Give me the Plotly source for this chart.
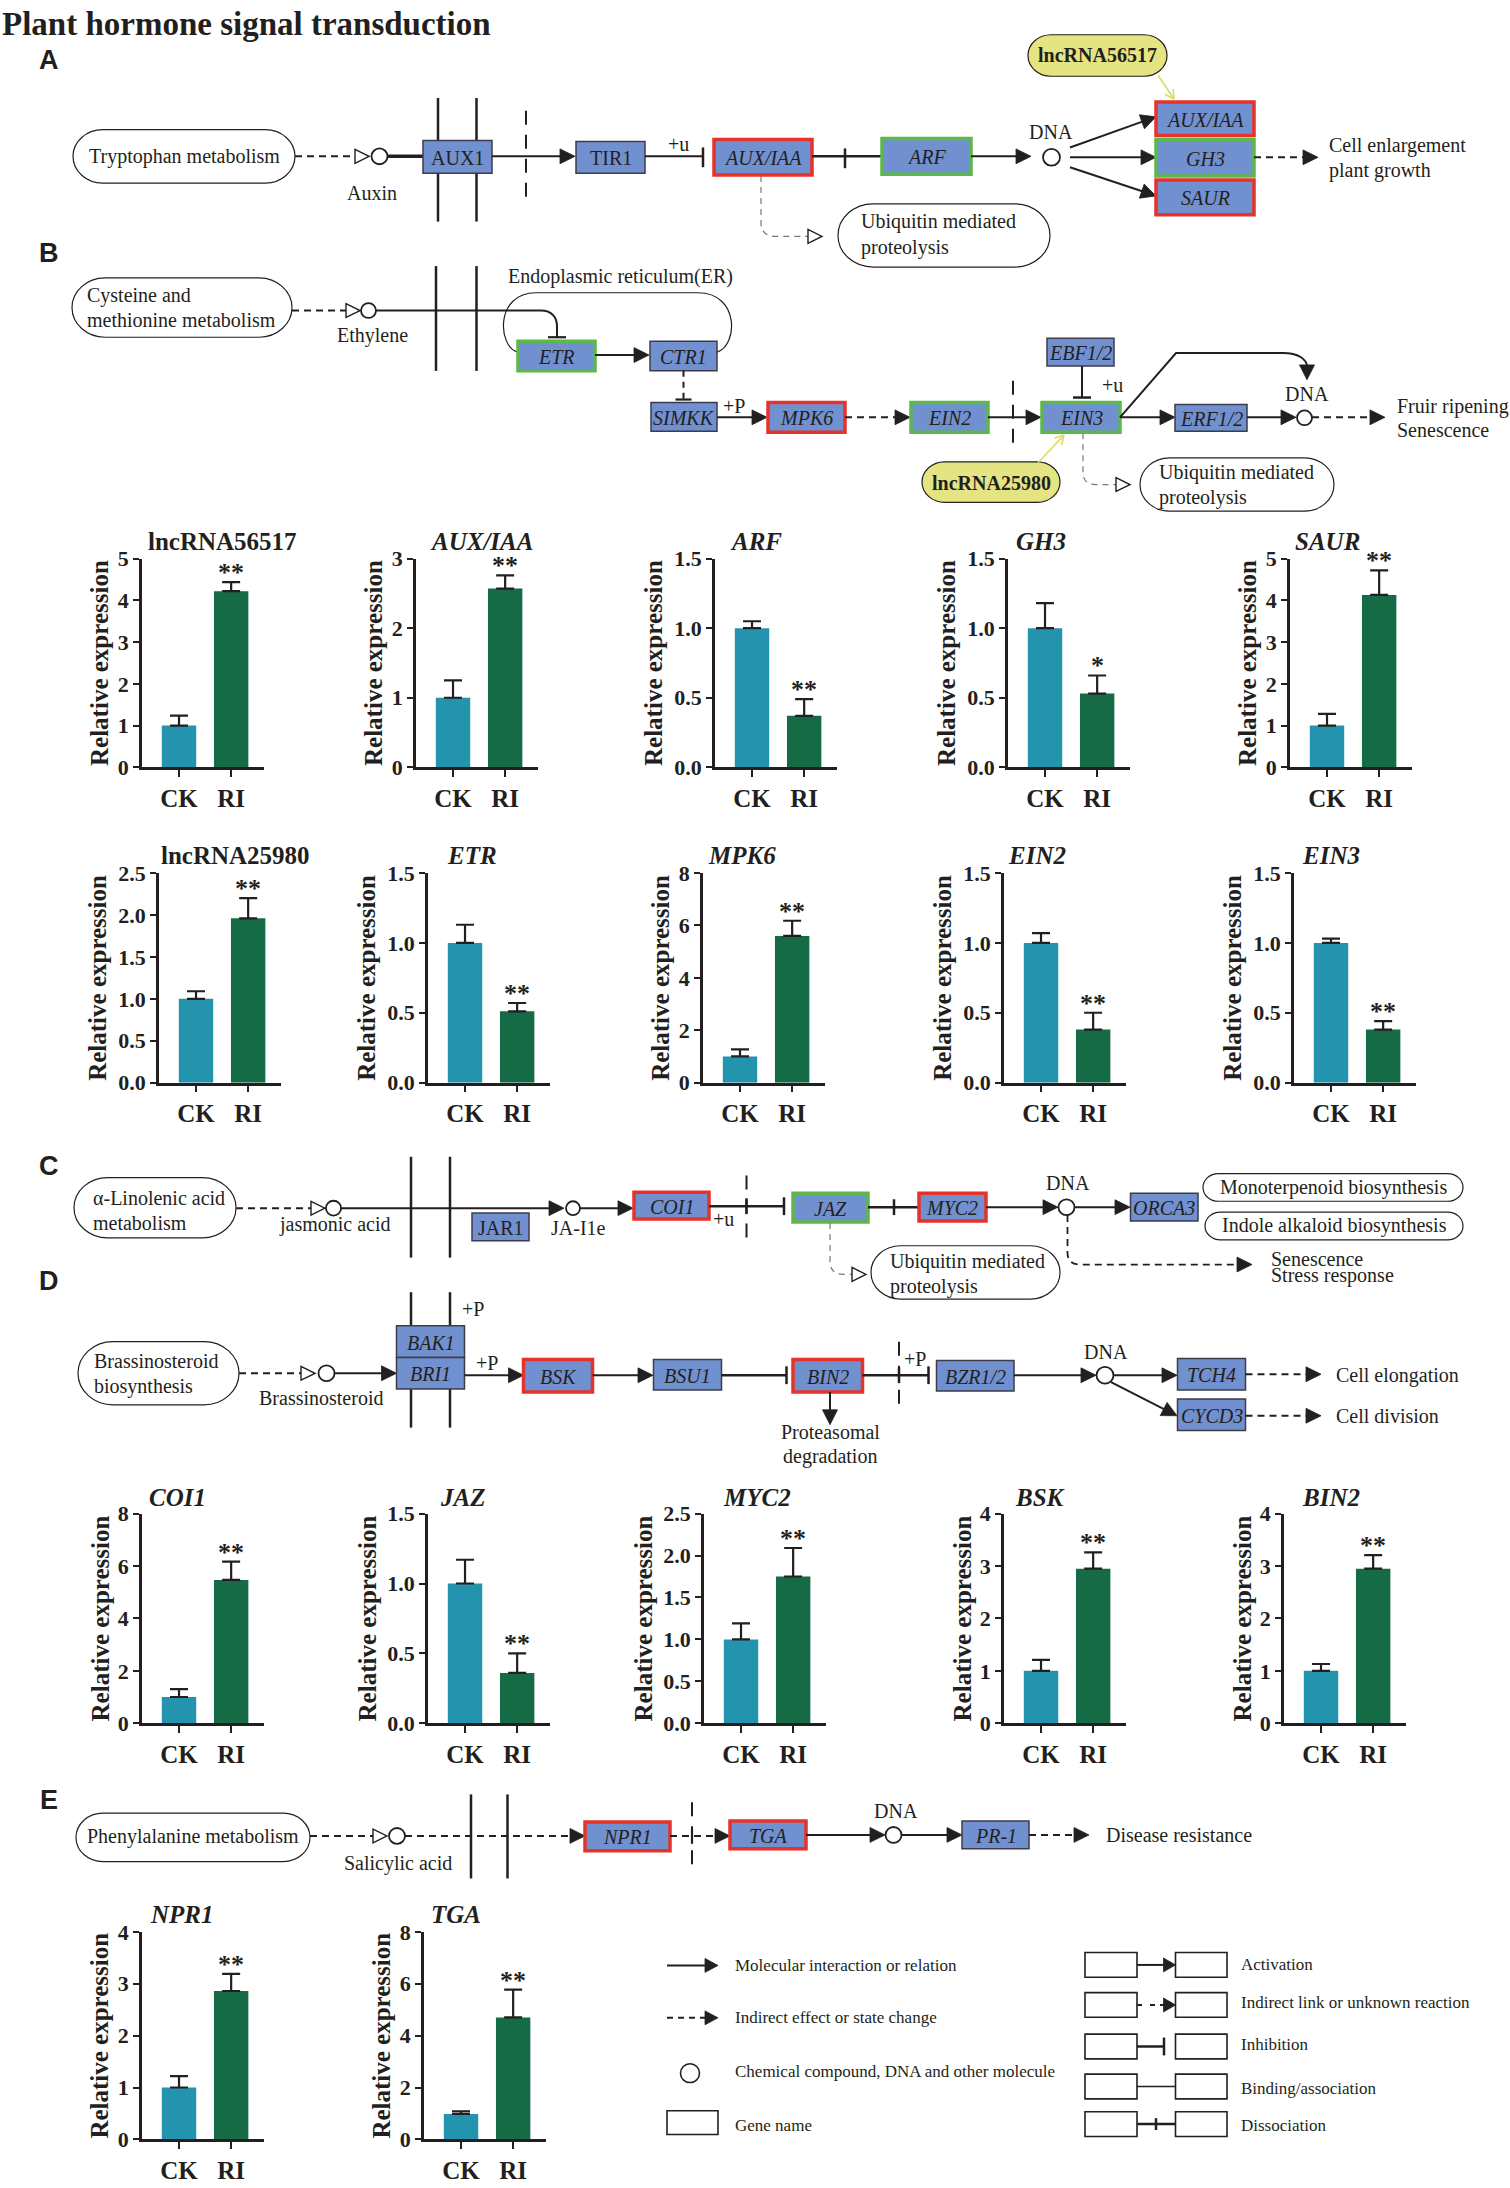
import math
import plotly.graph_objects as go

W, H = 1510, 2188

# ---- qPCR data: relative expression (mean, upper SD) ----
genes = ["lncRNA56517", "AUX/IAA", "ARF", "GH3", "SAUR",
         "lncRNA25980", "ETR", "MPK6", "EIN2", "EIN3",
         "COI1", "JAZ", "MYC2", "BSK", "BIN2",
         "NPR1", "TGA"]
groups = ["CK", "RI"]
ck_mean = [1.0, 1.0, 1.0, 1.0, 1.0,
           1.0, 1.0, 1.0, 1.0, 1.0,
           1.0, 1.0, 1.0, 1.0, 1.0,
           1.0, 0.98]
ck_err = [0.24, 0.25, 0.05, 0.18, 0.28,
          0.09, 0.13, 0.27, 0.07, 0.03,
          0.30, 0.17, 0.19, 0.21, 0.13,
          0.22, 0.10]
ri_mean = [4.22, 2.57, 0.37, 0.53, 4.13,
           1.96, 0.51, 5.60, 0.38, 0.38,
           5.47, 0.36, 1.75, 2.95, 2.95,
           2.86, 4.70]
ri_err = [0.22, 0.19, 0.12, 0.13, 0.59,
          0.24, 0.06, 0.58, 0.12, 0.06,
          0.70, 0.14, 0.34, 0.31, 0.26,
          0.33, 1.07]
sig = ["**", "**", "**", "*", "**",
       "**", "**", "**", "**", "**",
       "**", "**", "**", "**", "**",
       "**", "**"]
y_max = [5, 3, 1.5, 1.5, 5,
         2.5, 1.5, 8, 1.5, 1.5,
         8, 1.5, 2.5, 4, 4,
         4, 8]
y_step = [1, 1, 0.5, 0.5, 1,
          0.5, 0.5, 2, 0.5, 0.5,
          2, 0.5, 0.5, 1, 1,
          1, 2]

# ---- where the small bar panels sit (pixels) ----
chart_left = [142, 416, 715, 1008, 1290,
              159, 428, 703, 1004, 1294,
              142, 428, 704, 1004, 1284,
              142, 424]
chart_row = [0] * 5 + [1] * 5 + [2] * 5 + [3] * 2
title_dx = [4, 12, 13, 6, 3, 0, 17, 3, 2, 6, 5, 10, 17, 9, 16, 6, 5]
row_top = [553, 871, 1519, 1942]
row_bottom = [764, 1083, 1731, 2152]
row_title = [536, 853, 1503, 1924]
PLOT_W = 122

SERIF = "Liberation Serif, Times New Roman, serif"
SANS = "Liberation Sans, Arial, sans-serif"
INK = "#231f20"
GENE_FILL = "#7190cf"
YELLOW = "#e4e582"
CK_COLOR = "#2393ae"
RI_COLOR = "#146b45"
EDGE = {"n": ("#3c3c4a", 1.5), "r": ("#e5322a", 3.5), "g": ("#5bb84a", 3.5)}
DASH = "7px,5px"
NUC = "14px,10px"

shapes, notes = [], []


def px(x):
    return x / W


def py(y):
    return 1 - y / H


def path_str(*segs):
    out = []
    for s in segs:
        cmd, *pts = s
        xy = [f"{px(pts[i]):.5f},{py(pts[i + 1]):.5f}" for i in range(0, len(pts), 2)]
        out.append(cmd + " ".join(xy))
    return " ".join(out)


def txt(x, y, s, size=20, anchor="center", family=SERIF, color=INK, angle=0):
    notes.append(dict(x=px(x), y=py(y), xref="paper", yref="paper", text=s,
                      showarrow=False, xanchor=anchor, yanchor="middle",
                      textangle=angle, font=dict(family=family, size=size, color=color)))


def seg(x0, y0, x1, y1, w=2, dash=None, color=INK):
    shapes.append(dict(type="line", xref="paper", yref="paper",
                       x0=px(x0), y0=py(y0), x1=px(x1), y1=py(y1),
                       line=dict(color=color, width=w, dash=dash)))


def curve(*segs, w=2, dash=None, color=INK):
    shapes.append(dict(type="path", xref="paper", yref="paper", path=path_str(*segs),
                       line=dict(color=color, width=w, dash=dash)))


def head(tx, ty, ux, uy, L=15, hw=7.5, hollow=False, color=INK):
    bx, by = tx - ux * L, ty - uy * L
    p = path_str(("M", tx, ty), ("L", bx - uy * hw, by + ux * hw),
                 ("L", bx + uy * hw, by - ux * hw), ("Z",))
    shapes.append(dict(type="path", xref="paper", yref="paper", path=p,
                       fillcolor="white" if hollow else color,
                       line=dict(color=color, width=1.4 if hollow else 0.8)))


def arrow(x0, y0, x1, y1, dash=None, hollow=False, w=2, L=15, hw=7.5, color=INK):
    d = math.hypot(x1 - x0, y1 - y0)
    ux, uy = (x1 - x0) / d, (y1 - y0) / d
    back = L if hollow else L - 2
    seg(x0, y0, x1 - ux * back, y1 - uy * back, w, dash, color)
    head(x1, y1, ux, uy, L, hw, hollow, color)


def vee(x0, y0, x1, y1, color="#dcdc62"):
    # thin arrow with an open "V" tip
    d = math.hypot(x1 - x0, y1 - y0)
    ux, uy = (x1 - x0) / d, (y1 - y0) / d
    seg(x0, y0, x1, y1, 1.6, None, color)
    for s in (1, -1):
        seg(x1, y1, x1 - ux * 9 - s * uy * 5, y1 - uy * 9 + s * ux * 5, 1.6, None, color)


def bar_v(x, y, half=9, w=2.5):
    seg(x, y - half, x, y + half, w)


def bar_h(x, y, half=9, w=2.5):
    seg(x - half, y, x + half, y, w)


def circ(cx, cy, r=8, w=1.8):
    shapes.append(dict(type="circle", xref="paper", yref="paper",
                       x0=px(cx - r), x1=px(cx + r), y0=py(cy + r), y1=py(cy - r),
                       fillcolor="white", line=dict(color=INK, width=w)))


def gene(x0, y0, x1, y1, label, kind="n", italic=True, size=20):
    col, wd = EDGE[kind]
    shapes.append(dict(type="rect", xref="paper", yref="paper",
                       x0=px(x0), y0=py(y1), x1=px(x1), y1=py(y0),
                       fillcolor=GENE_FILL, line=dict(color=col, width=wd)))
    txt((x0 + x1) / 2, (y0 + y1) / 2 + 1, f"<i>{label}</i>" if italic else label, size)


def blank(x0, y0, x1, y1):
    shapes.append(dict(type="rect", xref="paper", yref="paper",
                       x0=px(x0), y0=py(y1), x1=px(x1), y1=py(y0),
                       fillcolor="white", line=dict(color=INK, width=1.6)))


def pill(x0, y0, x1, y1, fill="white"):
    ry = (y1 - y0) / 2
    rx = min(ry * 1.1, (x1 - x0) / 2)
    k = 0.5523
    ym = (y0 + y1) / 2
    p = path_str(("M", x0 + rx, y0), ("L", x1 - rx, y0),
                 ("C", x1 - rx + k * rx, y0, x1, ym - k * ry, x1, ym),
                 ("C", x1, ym + k * ry, x1 - rx + k * rx, y1, x1 - rx, y1),
                 ("L", x0 + rx, y1),
                 ("C", x0 + rx - k * rx, y1, x0, ym + k * ry, x0, ym),
                 ("C", x0, ym - k * ry, x0 + rx - k * rx, y0, x0 + rx, y0), ("Z",))
    shapes.append(dict(type="path", xref="paper", yref="paper", path=p,
                       fillcolor=fill, line=dict(color=INK, width=1.2)))


GRAY = "#777777"

# ---------------- title + panel letters ----------------
txt(0, 12, "<b>Plant hormone signal transduction</b>", 33, "left")
for letter, ly in [("A", 49), ("B", 244), ("C", 1167), ("D", 1284), ("E", 1809)]:
    txt(49, ly, f"<b>{letter}</b>", 27, "center", SANS)

# ---------------- panel A: auxin ----------------
pill(73, 119, 295, 173)
txt(184, 146, "Tryptophan metabolism")
arrow(295, 146, 369, 146, dash=DASH, hollow=True, L=14, hw=7)
circ(379.5, 146, 8)
txt(372, 183, "Auxin")
seg(387.5, 146, 423, 146, 3.5)
seg(438, 87, 438, 212, 2.5)
seg(476.5, 87, 476.5, 212, 2.5)
gene(423, 130, 492, 163, "AUX1", italic=False)
arrow(492, 146, 575, 146)
seg(526, 100, 526, 197, 2, NUC)
gene(576, 131, 645, 163, "TIR1", italic=False)
txt(678, 134, "+u")
seg(645, 146, 703, 146, 2)
bar_v(703, 147, 10)
gene(714, 129, 812, 165, "AUX/IAA", "r")
seg(812, 146, 882, 146, 2.5)
bar_v(845, 148, 10)
gene(882, 128, 971, 164, "ARF", "g")
arrow(971, 146, 1031, 146)
circ(1051.5, 147, 8.5)
txt(1051, 121, "DNA")
arrow(1070, 137, 1156, 106)
arrow(1070, 147, 1156, 147)
arrow(1070, 157, 1156, 186)
gene(1156, 91, 1254, 125, "AUX/IAA", "r")
gene(1156, 129, 1254, 166, "GH3", "g")
gene(1156, 170, 1254, 205, "SAUR", "r")
arrow(1254, 147, 1318, 147, dash=DASH)
txt(1327, 135, "Cell enlargement", anchor="left")
txt(1327, 160, "plant growth", anchor="left")
pill(1028, 23, 1167, 65, YELLOW)
txt(1097, 44, "<b>lncRNA56517</b>")
vee(1158, 64, 1174, 88)
curve(("M", 761, 166), ("L", 761, 213), ("Q", 761, 227, 776, 227), ("L", 808, 227),
      w=1.2, dash="6px,5px", color=GRAY)
head(822, 227, 1, 0, 14, 7, hollow=True)
pill(838, 194, 1050, 258)
txt(859, 212, "Ubiquitin mediated", anchor="left")
txt(859, 238, "proteolysis", anchor="left")

# ---------------- panel B: ethylene ----------------
pill(72, 269, 292, 329)
txt(85, 287, "Cysteine and", anchor="left")
txt(85, 312, "methionine metabolism", anchor="left")
arrow(292, 302, 360, 302, dash=DASH, hollow=True, L=14, hw=7)
circ(368.5, 302, 7.5)
txt(372, 327, "Ethylene")
seg(436, 257, 436, 363, 2.5)
seg(476.5, 257, 476.5, 363, 2.5)
curve(("M", 376, 302), ("L", 541, 302), ("C", 552, 302, 557, 309, 557, 318), ("L", 557, 329), w=2)
bar_h(557, 329, 9, 2.2)
curve(("M", 518, 344), ("C", 498, 340, 494, 284, 536, 284), ("L", 698, 284),
      ("C", 740, 284, 738, 338, 717, 344), w=1.2)
txt(620, 268, "Endoplasmic reticulum(ER)")
gene(518, 333, 595, 363, "ETR", "g")
arrow(595, 347, 649, 347)
gene(650, 333, 717, 363, "CTR1")
seg(683.5, 363, 683.5, 392, 2, "6px,5px")
bar_h(683.5, 392, 8, 2.2)
gene(651, 395, 717, 424, "SIMKK")
txt(734, 399, "+P")
arrow(717, 410, 767, 410)
gene(768, 395, 845, 425, "MPK6", "r")
arrow(845, 410, 910, 410, dash=DASH)
gene(911, 395, 988, 425, "EIN2", "g")
arrow(988, 410, 1041, 410)
seg(1013, 373, 1013, 445, 2, NUC)
gene(1042, 395, 1120, 425, "EIN3", "g")
gene(1047, 330, 1114, 358, "EBF1/2")
seg(1082, 358, 1082, 390, 2)
bar_h(1082, 390, 9, 2.5)
txt(1112, 377, "+u")
curve(("M", 1120, 410), ("L", 1176, 345), ("L", 1283, 345),
      ("C", 1298, 345, 1307, 351, 1307, 359), w=2)
head(1307, 372, 0, 1, 15, 7.5)
arrow(1120, 410, 1175, 410)
gene(1175, 397, 1247, 424, "ERF1/2")
arrow(1247, 410, 1296, 410)
circ(1304.5, 410.5, 7.5)
txt(1307, 386, "DNA")
arrow(1312, 410, 1385, 410, dash=DASH)
txt(1395, 399, "Fruir ripening", anchor="left")
txt(1395, 423, "Senescence", anchor="left")
pill(922, 455, 1060, 496, YELLOW)
txt(991, 476, "<b>lncRNA25980</b>")
vee(1038, 456, 1064, 428)
curve(("M", 1083, 426), ("L", 1083, 466), ("Q", 1083, 478, 1096, 478), ("L", 1116, 478),
      w=1.2, dash="6px,5px", color=GRAY)
head(1130, 478, 1, 0, 14, 7, hollow=True)
pill(1140, 451, 1334, 505)
txt(1157, 466, "Ubiquitin mediated", anchor="left")
txt(1157, 491, "proteolysis", anchor="left")

# ---------------- panel C: jasmonic acid ----------------
pill(74, 1179, 236, 1240)
txt(91, 1200, "α-Linolenic acid", anchor="left")
txt(91, 1225, "metabolism", anchor="left")
arrow(236, 1210, 325, 1210, dash=DASH, hollow=True, L=14, hw=7)
circ(333.5, 1210, 7.5)
txt(334.5, 1227, "jasmonic acid")
seg(411, 1158, 411, 1260, 2.5)
seg(450, 1158, 450, 1260, 2.5)
arrow(341, 1210, 564, 1210)
gene(472, 1215, 529, 1243, "JAR1", italic=False)
circ(573, 1210, 7)
txt(578, 1230, "JA-I1e")
arrow(580, 1210, 633, 1210)
gene(634, 1194, 709, 1221, "COI1", "r")
seg(709, 1208, 784, 1208, 2.5)
seg(746.5, 1177, 746.5, 1245, 2, NUC)
bar_v(746.5, 1208, 8, 2.5)
bar_v(784, 1208, 9, 2.5)
txt(723, 1221, "+u")
gene(793, 1195, 868, 1224, "JAZ", "g")
seg(868, 1209, 919, 1209, 2.5)
bar_v(894, 1209, 8, 2.5)
gene(919, 1195, 986, 1223, "MYC2", "r")
arrow(986, 1209, 1058, 1209)
circ(1066.5, 1209, 8)
txt(1067.5, 1185, "DNA")
arrow(1075, 1209, 1130, 1209)
gene(1130.5, 1195, 1198, 1223, "ORCA3")
pill(1203, 1175, 1463, 1203)
txt(1333, 1189, "Monoterpenoid biosynthesis")
pill(1205, 1214, 1463, 1242)
txt(1334, 1228, "Indole alkaloid biosynthesis")
curve(("M", 830, 1225), ("L", 830, 1263), ("Q", 830, 1277, 843, 1277), ("L", 852, 1277),
      w=1.2, dash="6px,5px", color=GRAY)
head(866, 1277, 1, 0, 14, 7, hollow=True)
pill(871, 1248, 1060, 1302)
txt(888, 1264, "Ubiquitin mediated", anchor="left")
txt(888, 1289, "proteolysis", anchor="left")
curve(("M", 1067.5, 1217), ("L", 1067.5, 1255), ("Q", 1067.5, 1267, 1080, 1267), ("L", 1239, 1267),
      w=1.8, dash=DASH)
head(1252, 1267, 1, 0, 15, 7.5)
txt(1269, 1261, "Senescence", anchor="left")
txt(1269, 1278, "Stress response", anchor="left")

# ---------------- panel D: brassinosteroid ----------------
pill(78, 1345, 239, 1409)
txt(92, 1365, "Brassinosteroid", anchor="left")
txt(92, 1390, "biosynthesis", anchor="left")
arrow(239, 1377, 315, 1377, dash=DASH, hollow=True, L=14, hw=7)
circ(326.5, 1377, 8)
txt(321, 1402, "Brassinosteroid")
seg(411, 1295, 411, 1432, 2.5)
seg(450, 1295, 450, 1432, 2.5)
arrow(334.5, 1377, 396.5, 1377)
gene(396.5, 1329, 464.5, 1361, "BAK1")
gene(396.5, 1361, 464.5, 1393, "BRI1")
txt(473, 1312, "+P")
txt(487, 1367, "+P")
arrow(464.5, 1379, 523.5, 1379)
gene(523.5, 1363, 592.5, 1396, "BSK", "r")
arrow(592.5, 1379, 653, 1379)
gene(653.5, 1363, 721.5, 1394, "BSU1")
seg(721.5, 1379, 786.5, 1379, 2.5)
bar_v(786.5, 1379, 9, 2.5)
gene(793, 1363, 862.5, 1396, "BIN2", "r")
arrow(830, 1396, 830, 1429)
txt(830, 1436, "Proteasomal")
txt(830, 1461, "degradation")
seg(862.5, 1379, 928.5, 1379, 2.5)
seg(899, 1345, 899, 1413, 2, NUC)
bar_v(899, 1379, 8, 2.5)
bar_v(928.5, 1379, 9, 2.5)
txt(915, 1363, "+P")
gene(936.5, 1364, 1014, 1395, "BZR1/2")
arrow(1014, 1379, 1096, 1379)
circ(1105, 1379, 8.5)
txt(1106, 1355, "DNA")
arrow(1113.5, 1379, 1177, 1379)
gene(1177.5, 1362, 1245.5, 1394, "TCH4")
arrow(1111, 1386, 1177, 1420)
gene(1177.5, 1403, 1245.5, 1435, "CYCD3")
arrow(1245.5, 1378, 1321, 1378, dash=DASH)
txt(1334, 1379, "Cell elongation", anchor="left")
arrow(1245.5, 1420, 1321, 1420, dash=DASH)
txt(1334, 1420, "Cell division", anchor="left")

# ---------------- panel E: salicylic acid ----------------
pill(76, 1822, 310, 1871)
txt(193, 1846, "Phenylalanine metabolism")
arrow(310, 1845, 387, 1845, dash=DASH, hollow=True, L=14, hw=7)
circ(397, 1845, 8)
txt(397.5, 1873, "Salicylic acid")
seg(471, 1803, 471, 1888, 2.5)
seg(507.5, 1803, 507.5, 1888, 2.5)
arrow(405, 1845, 585, 1845, dash=DASH)
gene(585, 1831, 670, 1860, "NPR1", "r")
arrow(670, 1845, 730, 1845, dash=DASH)
seg(692, 1811, 692, 1879, 2, NUC)
bar_v(692, 1845, 8, 2.2)
gene(730, 1830, 806, 1858, "TGA", "r")
arrow(806, 1844, 885, 1844)
circ(893.5, 1844, 8)
txt(896, 1820, "DNA")
arrow(901.5, 1844, 962, 1844)
gene(962, 1830, 1029, 1858, "PR-1")
arrow(1029, 1844, 1089, 1844, dash=DASH)
txt(1104, 1844, "Disease resistance", anchor="left")

# ---------------- legend ----------------
LEG = 17
arrow(667, 1976, 718, 1976, L=13, hw=7)
txt(733, 1976, "Molecular interaction or relation", LEG, "left")
arrow(667, 2029, 718, 2029, dash="6px,5px", L=13, hw=7)
txt(733, 2029, "Indirect effect or state change", LEG, "left")
circ(690, 2085, 9.5, 1.6)
txt(733, 2083, "Chemical compound, DNA and other molecule", LEG, "left")
blank(667, 2123, 718, 2147)
txt(733, 2138, "Gene name", LEG, "left")

leg_rows = [1975.5, 2016, 2058, 2098.5, 2136.5]
for yc in leg_rows:
    blank(1085, yc - 12.5, 1137, yc + 12.5)
    blank(1175.5, yc - 12.5, 1227, yc + 12.5)
arrow(1137, 1975.5, 1175.5, 1975.5, L=12, hw=7)
arrow(1150, 2016, 1175.5, 2016, dash="5px,5px", L=12, hw=7)
seg(1137, 2016, 1142, 2016, 2)
seg(1137, 2058, 1164, 2058, 2.5)
bar_v(1164, 2058, 9, 2.5)
seg(1137, 2098.5, 1175.5, 2098.5, 1.6)
seg(1137, 2136.5, 1175.5, 2136.5, 2.5)
bar_v(1156, 2136.5, 6, 2.5)
txt(1239, 1975, "Activation", LEG, "left")
txt(1239, 2014, "Indirect link or unknown reaction", LEG, "left")
txt(1239, 2056, "Inhibition", LEG, "left")
txt(1239, 2100, "Binding/association", LEG, "left")
txt(1239, 2138, "Dissociation", LEG, "left")

# ---------------- bar charts ----------------
fig = go.Figure()
axes = {}
for i, g in enumerate(genes):
    k = i + 2
    r = chart_row[i]
    left = chart_left[i]
    top, bottom = row_top[r], row_bottom[r]
    fig.add_trace(go.Bar(
        x=[0, 1], y=[ck_mean[i], ri_mean[i]],
        xaxis=f"x{k}", yaxis=f"y{k}", width=0.66,
        marker=dict(color=[CK_COLOR, RI_COLOR], line=dict(width=0)),
        error_y=dict(type="data", symmetric=False, array=[ck_err[i], ri_err[i]],
                     arrayminus=[0, 0], color=INK, thickness=2.2, width=9),
        showlegend=False, hoverinfo="skip",
    ))
    axes[f"xaxis{k}"] = dict(
        domain=[left / W, (left + PLOT_W) / W], anchor=f"y{k}", range=[-0.71, 1.63],
        tickvals=[0, 1], ticktext=groups, ticks="outside", ticklen=7, tickwidth=2.2,
        tickcolor=INK, showline=True, linewidth=2.6, linecolor=INK,
        showgrid=False, zeroline=False, fixedrange=True,
        tickfont=dict(family=SERIF, size=25, color=INK, weight="bold"),
    )
    axes[f"yaxis{k}"] = dict(
        domain=[1 - bottom / H, 1 - top / H], anchor=f"x{k}", range=[0, y_max[i]],
        tick0=0, dtick=y_step[i], tickformat=".1f" if y_step[i] < 1 else "d",
        ticks="outside", ticklen=6, tickwidth=2.2, tickcolor=INK,
        showline=True, linewidth=2.6, linecolor=INK,
        showgrid=False, zeroline=False, fixedrange=True,
        tickfont=dict(family=SERIF, size=22, color=INK, weight="bold"),
    )
    label = f"<b>{g}</b>" if g.startswith("lnc") else f"<b><i>{g}</i></b>"
    txt(left + title_dx[i], row_title[r], label, 25, "left")
    off = 61 if y_step[i] < 1 else 42
    txt(left - off, (top + bottom) / 2, "<b>Relative expression</b>", 25, angle=-90)
    notes.append(dict(x=1, y=ri_mean[i] + ri_err[i], xref=f"x{k}", yref=f"y{k}",
                      text=f"<b>{sig[i]}</b>", showarrow=False, yanchor="bottom",
                      yshift=-7, font=dict(family=SERIF, size=26, color=INK)))

fig.update_layout(**axes)
fig.update_layout(
    width=W, height=H, margin=dict(l=0, r=0, t=0, b=0),
    paper_bgcolor="white", plot_bgcolor="white",
    showlegend=False, shapes=shapes, annotations=notes,
    font=dict(family=SERIF, color=INK),
)

fig.write_html("out.html", config={"displayModeBar": False},
               post_script="document.body.style.margin='0';document.body.style.overflow='hidden';")
